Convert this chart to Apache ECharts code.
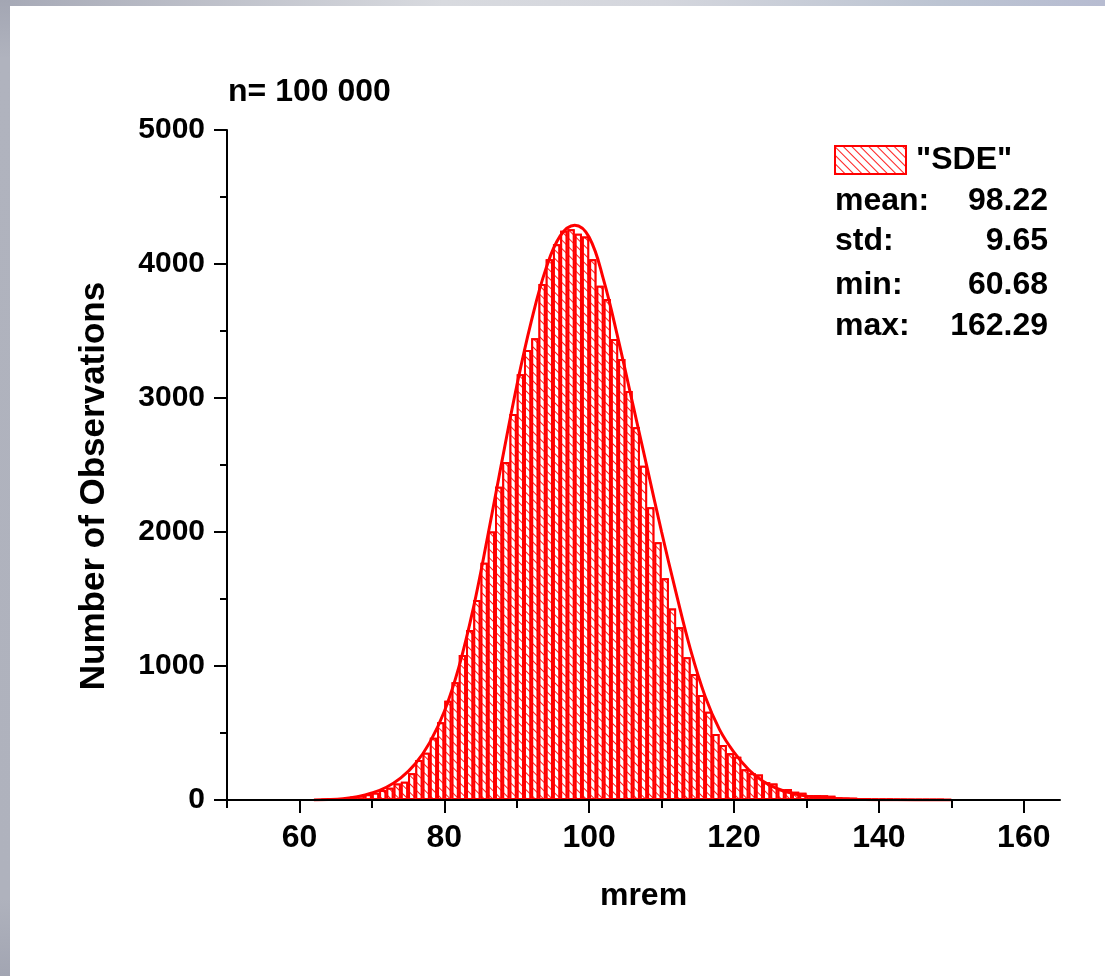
<!DOCTYPE html>
<html><head><meta charset="utf-8">
<script src="https://cdn.jsdelivr.net/npm/echarts@6/dist/echarts.min.js"></script>
<style>html,body{margin:0;padding:0;background:#fff}#c{width:1105px;height:976px}</style>
</head><body><div id="c"></div><script>
// Histogram bins: start value (mrem) of each 1-mrem bin
const binStarts = [50,51,52,53,54,55,56,57,58,59,60,61,62,63,64,65,66,67,68,69,
  70,71,72,73,74,75,76,77,78,79,80,81,82,83,84,85,86,87,88,89,
  90,91,92,93,94,95,96,97,98,99,100,101,102,103,104,105,106,107,108,109,
  110,111,112,113,114,115,116,117,118,119,120,121,122,123,124,125,126,127,128,129,
  130,131,132,133,134,135,136,137,138,139,140,141,142,143,144,145,146,147,148,149,
  150,151,152,153,154,155,156,157,158,159,160,161,162,163,164];
// Number of observations in each bin
const counts = [0,0,0,0,0,0,0,0,0,0,1,1,1,2,4,8,14,25,32,42,
  55,75,92,124,137,199,299,353,465,580,741,878,1082,1269,1493,1771,2003,2338,2522,2881,
  3177,3358,3445,3851,4035,4147,4249,4260,4225,4205,4035,3838,3739,3440,3291,3052,2781,2495,2184,1923,
  1654,1430,1289,1065,940,784,659,493,410,348,323,229,200,190,132,124,80,82,62,55,
  37,37,35,32,20,18,17,12,10,8,8,6,5,4,4,3,3,2,2,1,
  1,1,1,0,1,0,0,1,0,0,0,0,1,0,0];
// Fitted distribution curve
const curveX = [62,64,66,68,70,72,74,76,78,80,82,84,86,88,90,92,94,96,98,100,102,104,106,108,110,112,114,116,118,120,122,124,126,128,130,132,134,136,138,140,145,150];
const curveY = [0,3,10,25,52,95,165,270,430,660,990,1430,1970,2540,3090,3570,3960,4210,4290,4200,3880,3440,2960,2480,2000,1545,1120,775,525,355,228,140,84,50,29,17,10,6,3,2,0.5,0];
// Axis ticks
const xMajorTicks = [60,80,100,120,140,160];
const xMinorTicks = [50,70,90,110,130,150];
const statNames = ['mean:','std:','min:','max:'];
const statValues = ['98.22','9.65','60.68','162.29'];
const seriesName = '"SDE"';
const sampleLabel = 'n= 100 000';

const FONT = '"Liberation Sans", Arial, sans-serif';
const chart = echarts.init(document.getElementById('c'), null, {renderer:'canvas'});
const statY = [201, 241, 285, 326];
const graphic = [
  {type:'rect', z:-10, shape:{x:0,y:0,width:1105,height:6}, style:{fill:new echarts.graphic.LinearGradient(0,0,1,0,[
    {offset:0,color:'#a6a9b6'},{offset:0.4,color:'#d8dadf'},{offset:0.6,color:'#d4d6dd'},{offset:0.85,color:'#bcc4d2'},{offset:1,color:'#b7bcd1'}])}},
  {type:'rect', z:-10, shape:{x:0,y:0,width:10,height:976}, style:{fill:new echarts.graphic.LinearGradient(0,0,0,1,[
    {offset:0,color:'#a3a6b3'},{offset:0.06,color:'#b0b3be'},{offset:0.92,color:'#afb2bd'},{offset:1,color:'#a2a5b2'}])}}
];
statNames.forEach((n,i)=>{
  graphic.push({type:'text', x:835, y:statY[i], style:{text:n, fill:'#000', font:'bold 32px '+FONT, textVerticalAlign:'middle', textAlign:'left'}});
  graphic.push({type:'text', x:1048, y:statY[i], style:{text:statValues[i], fill:'#000', font:'bold 32px '+FONT, textVerticalAlign:'middle', textAlign:'right'}});
});
const axisText = {fontFamily:FONT, fontWeight:'bold', color:'#000'};
const hatch = {symbol:'rect', symbolSize:1, symbolKeepAspect:false, color:'#ff1a1a', backgroundColor:'#ffffff',
  dashArrayX:[1,0], dashArrayY:[1,5], rotation:Math.PI/4};
chart.setOption({
  animation:false,
  backgroundColor:'#ffffff',
  title:{text:sampleLabel, left:228, top:76, padding:0, textStyle:Object.assign({fontSize:32}, axisText)},
  legend:{data:[seriesName], left:834, top:144, padding:0, itemWidth:71, itemHeight:28, icon:'rect',
    textStyle:Object.assign({fontSize:32, padding:[0,0,0,5]}, axisText)},
  grid:{left:227, right:45, top:130, bottom:176, outerBoundsMode:'none', containLabel:false},
  xAxis:[
    {type:'category', data:binStarts, show:false, boundaryGap:true, position:'bottom'},
    {type:'value', min:50, max:165, position:'bottom', z:10,
      axisLine:{show:true, onZero:false, lineStyle:{color:'#000', width:2}},
      axisTick:{show:true, customValues:xMajorTicks, length:13, lineStyle:{color:'#000', width:2}},
      axisLabel:Object.assign({show:true, customValues:xMajorTicks, fontSize:32, margin:22}, axisText),
      splitLine:{show:false},
      name:'mrem', nameLocation:'middle', nameGap:80, nameTextStyle:Object.assign({fontSize:32}, axisText)},
    {type:'value', min:50, max:165, position:'bottom', z:10,
      axisLine:{show:false},
      axisTick:{show:true, customValues:xMinorTicks, length:8, lineStyle:{color:'#000', width:2}},
      axisLabel:{show:false}, splitLine:{show:false}}
  ],
  yAxis:{type:'value', min:0, max:5000, interval:1000, z:10,
    axisLine:{show:true, lineStyle:{color:'#000', width:2}},
    axisTick:{show:true, length:13, lineStyle:{color:'#000', width:2}},
    minorTick:{show:true, splitNumber:2, length:7, lineStyle:{color:'#000', width:2}},
    axisLabel:Object.assign({fontSize:30, margin:22, formatter:v=>String(v)}, axisText),
    splitLine:{show:false},
    name:'Number of Observations', nameLocation:'middle', nameGap:115, nameRotate:90,
    nameTextStyle:Object.assign({fontSize:35, padding:[0,42,0,0]}, axisText)},
  graphic:graphic,
  series:[
    {name:seriesName, type:'bar', xAxisIndex:0, data:counts.map(v=>v===0?'-':v), barCategoryGap:'0%', barWidth:'100%',
      itemStyle:{color:'#ffffff', borderColor:'#ff0000', borderWidth:2, decal:hatch},
      emphasis:{disabled:true}},
    {name:'fit', type:'line', xAxisIndex:1, data:curveX.map((x,i)=>[x,curveY[i]]), smooth:0.4,
      showSymbol:false, lineStyle:{color:'#ff0000', width:3}, z:5}
  ]
});
</script></body></html>
